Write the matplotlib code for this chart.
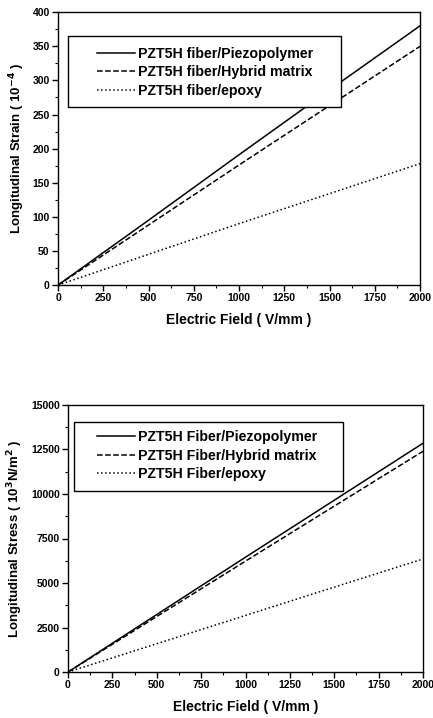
import matplotlib
matplotlib.use("Agg")
import matplotlib.pyplot as plt
from matplotlib.patches import Rectangle
from matplotlib.ticker import MultipleLocator

plt.rcParams["font.family"] = ["Liberation Sans", "DejaVu Sans"]
plt.rcParams["font.weight"] = "bold"

# Electric field (V/mm)
field = [0, 500, 1000, 1500, 2000]

# Longitudinal strain (1e-4)
strain_piezo = [0, 95, 191, 286, 380]
strain_hybrid = [0, 88, 176, 263, 350]
strain_epoxy = [0, 45, 90, 134, 178]
strain_labels = ["PZT5H fiber/Piezopolymer", "PZT5H fiber/Hybrid matrix",
                 "PZT5H fiber/epoxy"]

# Longitudinal stress (1e3 N/m^2)
stress_piezo = [0, 3230, 6450, 9650, 12850]
stress_hybrid = [0, 3120, 6230, 9320, 12400]
stress_epoxy = [0, 1590, 3180, 4770, 6350]
stress_labels = ["PZT5H Fiber/Piezopolymer", "PZT5H Fiber/Hybrid matrix",
                 "PZT5H Fiber/epoxy"]

styles = ["-", "--", ":"]

fig = plt.figure(figsize=(4.33, 7.18), dpi=100)
ax1 = fig.add_axes([0.134, 0.603, 0.836, 0.380])
ax2 = fig.add_axes([0.157, 0.064, 0.820, 0.372])


def style_axes(ax, ylabel, ymax, ymajor, yminor):
    ax.set_xlim(0, 2000)
    ax.set_ylim(0, ymax)
    ax.xaxis.set_major_locator(MultipleLocator(250))
    ax.xaxis.set_minor_locator(MultipleLocator(125))
    ax.yaxis.set_major_locator(MultipleLocator(ymajor))
    ax.yaxis.set_minor_locator(MultipleLocator(yminor))
    ax.tick_params(which="major", direction="out", length=4, width=1,
                   labelsize=7.5, pad=2)
    ax.tick_params(which="minor", direction="out", length=2.5, width=0.8)
    for lab in ax.get_xticklabels() + ax.get_yticklabels():
        lab.set_fontweight("bold")
    for sp in ax.spines.values():
        sp.set_linewidth(1.0)
    ax.set_xlabel("Electric Field ( V/mm )", fontsize=10, fontweight="bold",
                  labelpad=7)
    ax.set_ylabel(ylabel, fontsize=9.5, fontweight="bold", labelpad=4)


def boxed_legend(ax, anchor, box):
    # legend without its own frame, on top of an opaque rectangular box
    leg = ax.legend(loc="upper left", bbox_to_anchor=anchor, fontsize=10.2,
                    frameon=False, handlelength=2.7, handletextpad=0.2,
                    borderpad=0, labelspacing=0.3, borderaxespad=0)
    leg.set_zorder(6)
    for t in leg.get_texts():
        t.set_fontweight("bold")
    x0, y0, x1, y1 = box
    ax.add_patch(Rectangle((x0, y0), x1 - x0, y1 - y0, transform=ax.transAxes,
                           facecolor="white", edgecolor="black",
                           linewidth=1.0, zorder=5))


for ys, ls, lab in zip([strain_piezo, strain_hybrid, strain_epoxy], styles,
                       strain_labels):
    ax1.plot(field, ys, color="black", linestyle=ls, linewidth=1.1, label=lab)
style_axes(ax1, "Longitudinal Strain ( 10$^{-4}$ )", 400, 50, 25)
boxed_legend(ax1, (0.108, 0.872), (0.028, 0.652, 0.782, 0.912))

for ys, ls, lab in zip([stress_piezo, stress_hybrid, stress_epoxy], styles,
                       stress_labels):
    ax2.plot(field, ys, color="black", linestyle=ls, linewidth=1.1, label=lab)
style_axes(ax2, "Longitudinal Stress ( 10$^{3}$N/m$^{2}$ )", 15000, 2500, 1250)
boxed_legend(ax2, (0.082, 0.905), (0.017, 0.678, 0.775, 0.936))

fig.savefig("out.png", dpi=100)
